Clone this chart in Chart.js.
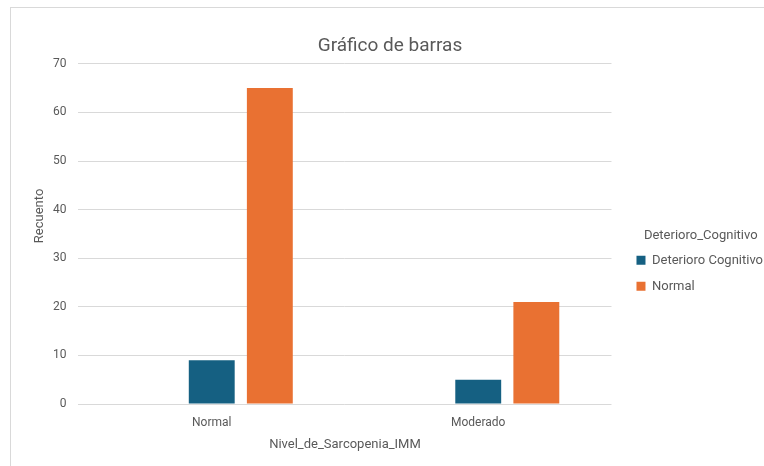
<!DOCTYPE html>
<html>
<head>
    <meta charset="UTF-8">
    <title>Gráfico de barras</title>
    <script src="https://cdn.jsdelivr.net/npm/chart.js"></script>
    <style>
        html, body { margin: 0; padding: 0; background: #fff; overflow: hidden; }
        .marco { position: absolute; left: 10px; top: 7px; width: 900px; height: 600px; border: 1px solid #d9d9d9; }
        .chart-wrapper { position: absolute; left: 0; top: 0; width: 780px; height: 466px; }
    </style>
</head>
<body>
<div class="marco"></div>
<div class="chart-wrapper">
    <canvas id="barrasChart"></canvas>
</div>

<script>
    // Datos
    const categorias = ['Normal', 'Moderado'];
    const series = ['', 'Deterioro Cognitivo', 'Normal'];
    const serieVacia = [null, null];
    const deterioro = [9, 5];
    const normal = [65, 21];
    const ticksY = [0, 10, 20, 30, 40, 50, 60, 70];

    const gris = '#595959';
    const tituloY = 'Recuento';

    // Título del eje Y dibujado a mano (Excel lo pone un poco más arriba del centro)
    const tituloEjeY = {
        id: 'tituloEjeY',
        afterDraw(chart) {
            const area = chart.chartArea;
            const c = chart.ctx;
            c.save();
            c.translate(area.left - 39, (area.top + area.bottom) / 2 - 18);
            c.rotate(-Math.PI / 2);
            c.fillStyle = gris;
            c.font = '13px Roboto';
            c.textAlign = 'center';
            c.textBaseline = 'middle';
            c.fillText(tituloY, 0, 0);
            c.restore();
        }
    };

    // Leyenda algo más ancha y separada del área del gráfico, como en Excel
    const leyendaAncha = {
        id: 'leyendaAncha',
        afterInit(chart) {
            const leg = chart.legend;
            const fitOrig = leg.fit;
            leg.fit = function () {
                fitOrig.call(this);
                this.width += 5;
            };
            const drawOrig = leg.draw;
            leg.draw = function (area) {
                this.ctx.save();
                this.ctx.translate(12, 0);
                drawOrig.call(this, area);
                this.ctx.restore();
            };
        }
    };

    const ctx = document.getElementById('barrasChart').getContext('2d');
    new Chart(ctx, {
        type: 'bar',
        data: {
            labels: categorias,
            datasets: [
                { label: series[0], data: serieVacia, backgroundColor: '#ffffff' },
                { label: series[1], data: deterioro, backgroundColor: '#156082' },
                { label: series[2], data: normal, backgroundColor: '#E97132' }
            ]
        },
        options: {
            responsive: true,
            maintainAspectRatio: false,
            animation: false,
            datasets: {
                bar: { categoryPercentage: 0.654, barPercentage: 0.79, borderWidth: 0 }
            },
            layout: { padding: { top: 10, right: 14, bottom: 13, left: 14 } },
            scales: {
                x: {
                    grid: { display: false },
                    border: { display: false },
                    ticks: { color: gris, font: { family: 'Roboto', size: 12 }, padding: 4 },
                    title: {
                        display: true, text: 'Nivel_de_Sarcopenia_IMM', color: gris,
                        font: { family: 'Roboto', size: 13 }, padding: { top: 3, bottom: 0 }
                    }
                },
                y: {
                    min: ticksY[0],
                    max: ticksY[ticksY.length - 1],
                    afterBuildTicks: (scale) => { scale.ticks = ticksY.map(v => ({ value: v })); },
                    afterFit: (scale) => { scale.width += 27; },
                    grid: { color: '#d9d9d9', lineWidth: 1, drawTicks: false },
                    border: { display: false },
                    ticks: { color: gris, font: { family: 'Roboto', size: 12 }, padding: 12 }
                }
            },
            plugins: {
                title: {
                    display: true, text: 'Gráfico de barras', color: gris,
                    font: { family: 'Roboto', size: 19, weight: 'normal' },
                    padding: { top: 25, bottom: 6 }
                },
                tooltip: { enabled: false },
                legend: {
                    position: 'right',
                    title: {
                        display: true, text: 'Deterioro_Cognitivo', color: gris,
                        font: { family: 'Roboto', size: 13 }, padding: { top: 72, bottom: -4 }
                    },
                    labels: {
                        color: gris, font: { family: 'Roboto', size: 13 },
                        boxWidth: 9, boxHeight: 9, padding: 13,
                        filter: (item) => item.text !== ''
                    }
                }
            }
        },
        plugins: [tituloEjeY, leyendaAncha]
    });
</script>
</body>
</html>
